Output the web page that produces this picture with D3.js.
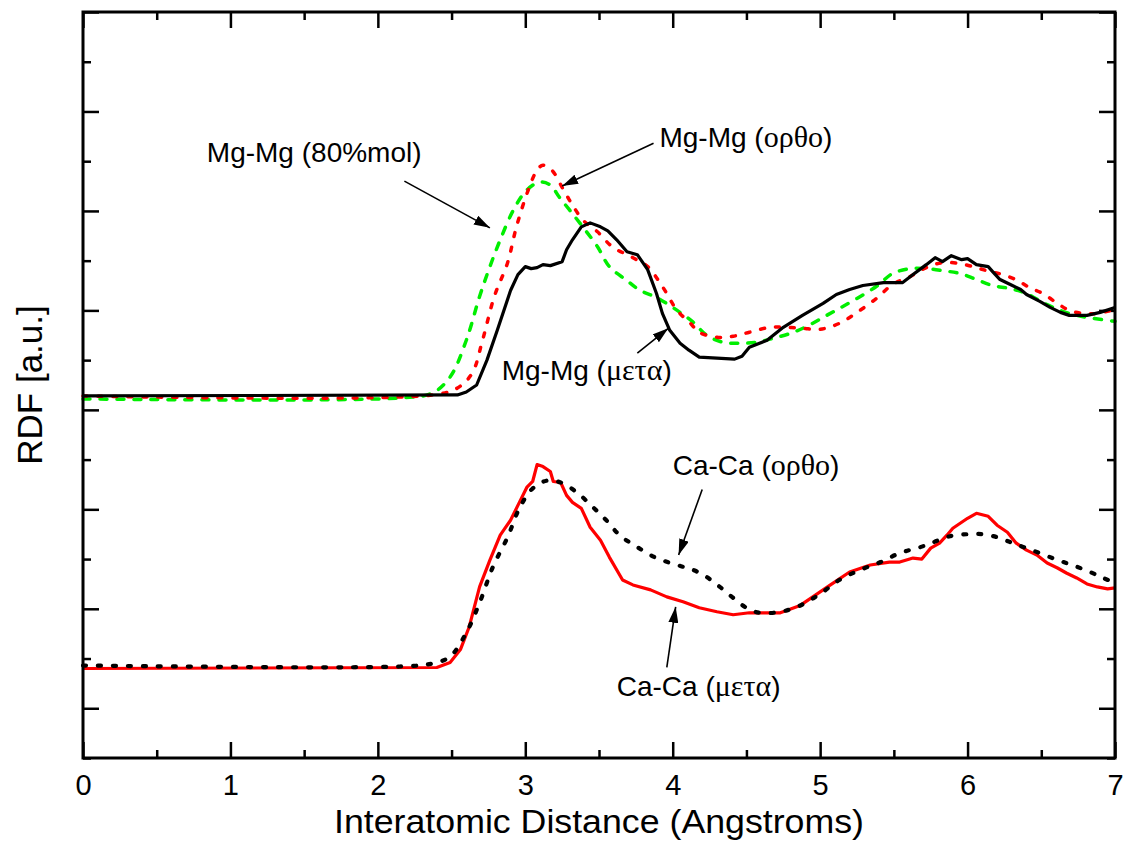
<!DOCTYPE html>
<html>
<head>
<meta charset="utf-8">
<script src="https://cdn.jsdelivr.net/npm/d3@7"></script>
<style>
  body { margin: 0; background: #fff; }
  svg { display: block; }
  text { font-family: "Liberation Sans", Arial, Helvetica, sans-serif; fill: #000; }
  .greek { font-family: "Liberation Serif", "Times New Roman", serif; }
</style>
</head>
<body>
<svg id="chart" width="1123" height="841"></svg>
<script>
// ---- axis ticks ----
const xMajorTicks = [0, 1, 2, 3, 4, 5, 6, 7];
const xMinorTicks = [0.5, 1.5, 2.5, 3.5, 4.5, 5.5, 6.5];
const yMajorTicks = [0, 1, 2, 3, 4, 5, 6, 7];
const yMinorTicks = [-0.5, 0.5, 1.5, 2.5, 3.5, 4.5, 5.5, 6.5];

// ---- radial distribution functions, [distance (Å), RDF (a.u., offset)] ----
const mgMgMeta = [
  [0, 3.14], [2.54, 3.15], [2.60, 3.18], [2.67, 3.25], [2.74, 3.50], [2.81, 3.80],
  [2.90, 4.20], [2.95, 4.36], [3.00, 4.44], [3.04, 4.42], [3.08, 4.43], [3.12, 4.46],
  [3.17, 4.45], [3.25, 4.49], [3.28, 4.61], [3.32, 4.71], [3.38, 4.84], [3.44, 4.88],
  [3.51, 4.84], [3.56, 4.80], [3.62, 4.71], [3.69, 4.59], [3.76, 4.56], [3.83, 4.41],
  [3.89, 4.17], [3.93, 3.97], [3.98, 3.80], [4.05, 3.67], [4.11, 3.60], [4.18, 3.53],
  [4.30, 3.52], [4.42, 3.51], [4.47, 3.54], [4.52, 3.63], [4.64, 3.70], [4.75, 3.83],
  [4.88, 3.95], [5.02, 4.07], [5.11, 4.16], [5.20, 4.21], [5.29, 4.25], [5.43, 4.28],
  [5.56, 4.28], [5.63, 4.36], [5.72, 4.46], [5.78, 4.53], [5.83, 4.49], [5.89, 4.55],
  [5.96, 4.51], [6.00, 4.52], [6.06, 4.46], [6.14, 4.44], [6.17, 4.39], [6.22, 4.31],
  [6.29, 4.26], [6.36, 4.21], [6.40, 4.16], [6.49, 4.09], [6.56, 4.03], [6.63, 3.98],
  [6.69, 3.95], [6.81, 3.95], [6.90, 3.98], [7.00, 4.03]
];

const mgMgOrtho = [
  [0, 3.14], [2.37, 3.15], [2.54, 3.22], [2.64, 3.37], [2.71, 3.70], [2.79, 4.14],
  [2.88, 4.48], [2.94, 4.84], [3.02, 5.21], [3.08, 5.41], [3.12, 5.46], [3.18, 5.41],
  [3.26, 5.21], [3.32, 5.06], [3.39, 4.91], [3.49, 4.79], [3.59, 4.64], [3.73, 4.53],
  [3.83, 4.44], [3.93, 4.24], [4.03, 4.00], [4.12, 3.87], [4.18, 3.78], [4.30, 3.73],
  [4.41, 3.74], [4.52, 3.78], [4.66, 3.83], [4.77, 3.83], [4.88, 3.82], [5.00, 3.81],
  [5.13, 3.87], [5.27, 4.00], [5.39, 4.13], [5.49, 4.26], [5.61, 4.34], [5.72, 4.43],
  [5.83, 4.48], [5.95, 4.47], [6.06, 4.43], [6.15, 4.39], [6.24, 4.36], [6.34, 4.30],
  [6.42, 4.23], [6.51, 4.17], [6.61, 4.07], [6.69, 4.00], [6.78, 3.97], [6.88, 3.97],
  [7.00, 4.01]
];

const mgMg80 = [
  [0, 3.11], [2.15, 3.12], [2.37, 3.17], [2.49, 3.33], [2.60, 3.70], [2.69, 4.14],
  [2.76, 4.44], [2.83, 4.71], [2.92, 5.01], [3.01, 5.21], [3.10, 5.29], [3.17, 5.26],
  [3.23, 5.14], [3.30, 5.01], [3.39, 4.84], [3.49, 4.64], [3.57, 4.44], [3.69, 4.30],
  [3.78, 4.20], [3.89, 4.13], [4.03, 4.00], [4.14, 3.88], [4.23, 3.75], [4.34, 3.68],
  [4.46, 3.67], [4.57, 3.68], [4.68, 3.72], [4.80, 3.77], [4.91, 3.84], [5.02, 3.93],
  [5.13, 4.02], [5.25, 4.12], [5.39, 4.25], [5.49, 4.37], [5.61, 4.42], [5.72, 4.42],
  [5.83, 4.40], [5.95, 4.37], [6.06, 4.31], [6.17, 4.25], [6.29, 4.22], [6.40, 4.17],
  [6.51, 4.08], [6.63, 4.00], [6.74, 3.95], [6.85, 3.92], [7.00, 3.89]
];

const caCaMeta = [
  [0, 0.40], [2.40, 0.41], [2.49, 0.46], [2.56, 0.59], [2.62, 0.82], [2.69, 1.22],
  [2.76, 1.49], [2.83, 1.74], [2.90, 1.89], [2.96, 2.07], [3.01, 2.22], [3.05, 2.28],
  [3.08, 2.45], [3.12, 2.43], [3.17, 2.38], [3.19, 2.28], [3.24, 2.27], [3.28, 2.14],
  [3.32, 2.07], [3.38, 2.01], [3.44, 1.82], [3.51, 1.69], [3.57, 1.52], [3.66, 1.29],
  [3.73, 1.24], [3.85, 1.19], [3.96, 1.12], [4.07, 1.07], [4.18, 1.01], [4.30, 0.97],
  [4.41, 0.94], [4.52, 0.96], [4.64, 0.96], [4.73, 0.96], [4.86, 1.03], [4.97, 1.14],
  [5.07, 1.24], [5.20, 1.37], [5.34, 1.44], [5.47, 1.47], [5.54, 1.47], [5.63, 1.51],
  [5.69, 1.50], [5.75, 1.61], [5.81, 1.66], [5.86, 1.74], [5.90, 1.81], [5.95, 1.86],
  [6.00, 1.91], [6.06, 1.96], [6.14, 1.93], [6.20, 1.84], [6.27, 1.77], [6.33, 1.66],
  [6.40, 1.59], [6.47, 1.54], [6.54, 1.46], [6.61, 1.41], [6.67, 1.36], [6.74, 1.31],
  [6.81, 1.25], [6.88, 1.22], [6.95, 1.20], [7.00, 1.21]
];

const caCaOrtho = [
  [0, 0.43], [2.15, 0.42], [2.37, 0.45], [2.49, 0.52], [2.60, 0.76], [2.69, 1.06],
  [2.78, 1.42], [2.88, 1.72], [2.96, 2.01], [3.05, 2.21], [3.15, 2.29], [3.24, 2.27],
  [3.35, 2.17], [3.46, 2.02], [3.55, 1.89], [3.64, 1.74], [3.76, 1.62], [3.89, 1.51],
  [4.03, 1.44], [4.14, 1.39], [4.23, 1.32], [4.32, 1.22], [4.41, 1.11], [4.50, 1.01],
  [4.59, 0.96], [4.73, 0.97], [4.86, 1.03], [5.00, 1.15], [5.13, 1.29], [5.27, 1.39],
  [5.41, 1.47], [5.54, 1.56], [5.68, 1.62], [5.77, 1.67], [5.88, 1.73], [6.00, 1.75],
  [6.10, 1.75], [6.20, 1.72], [6.29, 1.67], [6.38, 1.62], [6.49, 1.56], [6.61, 1.49],
  [6.71, 1.44], [6.83, 1.37], [6.92, 1.31], [7.00, 1.26]
];

// ---- callout labels: text anchor, arrow start and arrow tip in data units ----
const labelMain = ["Mg-Mg (", "Mg-Mg (", "Mg-Mg (", "Ca-Ca (", "Ca-Ca ("];
const labelGreek = ["80%mol", "ορθο", "μετα", "ορθο", "μετα"];
const labelText = [[0.84, 5.49], [3.91, 5.64], [2.84, 3.30], [4.00, 2.35], [3.62, 0.12]];
const arrowFrom = [[2.18, 5.30], [3.87, 5.68], [3.76, 3.57], [4.20, 2.20], [3.96, 0.41]];
const arrowTo   = [[2.76, 4.83], [3.25, 5.25], [3.97, 3.82], [4.04, 1.54], [4.02, 1.02]];

// ---- layout ----
const svg = d3.select("#chart");
const plotLeft = 83, plotRight = 1115, plotTop = 12, plotBottom = 758;

const x = d3.scaleLinear().domain([0, 7]).range([plotLeft, plotRight]);
const y = d3.scaleLinear().domain([-0.5, 7]).range([plotBottom, plotTop]);

// tick marks pointing into the frame on all four sides
function tickGroup(axisFn, scale, values, size, transform) {
  const g = svg.append("g")
    .attr("transform", transform)
    .call(axisFn(scale).tickValues(values).tickSize(-size).tickFormat(""));
  g.select(".domain").remove();
  g.selectAll(".tick line").attr("stroke", "#000").attr("stroke-width", 2.5);
  return g;
}
tickGroup(d3.axisBottom, x, xMajorTicks, 16, `translate(0,${plotBottom})`);
tickGroup(d3.axisBottom, x, xMinorTicks, 8, `translate(0,${plotBottom})`);
tickGroup(d3.axisTop, x, xMajorTicks, 16, `translate(0,${plotTop})`);
tickGroup(d3.axisTop, x, xMinorTicks, 8, `translate(0,${plotTop})`);
tickGroup(d3.axisLeft, y, yMajorTicks, 16, `translate(${plotLeft},0)`);
tickGroup(d3.axisLeft, y, yMinorTicks, 8, `translate(${plotLeft},0)`);
tickGroup(d3.axisRight, y, yMajorTicks, 16, `translate(${plotRight},0)`);
tickGroup(d3.axisRight, y, yMinorTicks, 8, `translate(${plotRight},0)`);

// x tick labels
const xLabels = svg.append("g")
  .attr("transform", `translate(0,${plotBottom})`)
  .call(d3.axisBottom(x).tickValues(xMajorTicks).tickSize(0).tickPadding(16).tickFormat(d3.format("d")));
xLabels.select(".domain").remove();
xLabels.selectAll("text")
  .attr("font-family", "'Liberation Sans', Arial, sans-serif")
  .attr("font-size", 29)
  .attr("fill", "#000");

// curves
const lineSmooth = d3.line().x(d => x(d[0])).y(d => y(d[1])).curve(d3.curveCatmullRom.alpha(0.5));
const lineRough = d3.line().x(d => x(d[0])).y(d => y(d[1]));

const plot = svg.append("g");
plot.append("path").datum(mgMg80)
  .attr("d", lineSmooth).attr("fill", "none")
  .attr("stroke", "#00ee00").attr("stroke-width", 3.5)
  .attr("stroke-dasharray", "7,10").attr("stroke-linecap", "round");
plot.append("path").datum(mgMgOrtho)
  .attr("d", lineSmooth).attr("fill", "none")
  .attr("stroke", "#ff0000").attr("stroke-width", 3.5)
  .attr("stroke-dasharray", "4,11").attr("stroke-linecap", "round");
plot.append("path").datum(mgMgMeta)
  .attr("d", lineRough).attr("fill", "none")
  .attr("stroke", "#000").attr("stroke-width", 3.2)
  .attr("stroke-linejoin", "round");
plot.append("path").datum(caCaMeta)
  .attr("d", lineRough).attr("fill", "none")
  .attr("stroke", "#ff0000").attr("stroke-width", 3.2)
  .attr("stroke-linejoin", "round");
plot.append("path").datum(caCaOrtho)
  .attr("d", lineSmooth).attr("fill", "none")
  .attr("stroke", "#000").attr("stroke-width", 4.2)
  .attr("stroke-dasharray", "3,12").attr("stroke-linecap", "round");

// frame
svg.append("rect")
  .attr("x", plotLeft).attr("y", plotTop)
  .attr("width", plotRight - plotLeft).attr("height", plotBottom - plotTop)
  .attr("fill", "none").attr("stroke", "#000").attr("stroke-width", 3);

// arrowheads
svg.append("defs").append("marker")
  .attr("id", "head")
  .attr("viewBox", "0 0 16 10")
  .attr("refX", 16).attr("refY", 5)
  .attr("markerWidth", 16).attr("markerHeight", 10)
  .attr("markerUnits", "userSpaceOnUse")
  .attr("orient", "auto")
  .append("path").attr("d", "M0,0 L16,5 L0,10 Z").attr("fill", "#000");

const callouts = svg.append("g");
labelMain.forEach((m, i) => {
  callouts.append("line")
    .attr("x1", x(arrowFrom[i][0])).attr("y1", y(arrowFrom[i][1]))
    .attr("x2", x(arrowTo[i][0])).attr("y2", y(arrowTo[i][1]))
    .attr("stroke", "#000").attr("stroke-width", 1.6)
    .attr("marker-end", "url(#head)");
  const t = callouts.append("text")
    .attr("x", x(labelText[i][0])).attr("y", y(labelText[i][1]))
    .attr("font-size", 28);
  t.append("tspan").text(m);
  const greekFont = /[α-ω]/.test(labelGreek[i]);
  t.append("tspan").attr("class", greekFont ? "greek" : null)
    .attr("font-size", greekFont ? 30 : 28)
    .text(labelGreek[i]);
  t.append("tspan").text(")");
});

// axis titles
svg.append("text")
  .attr("x", (plotLeft + plotRight) / 2).attr("y", 833)
  .attr("text-anchor", "middle").attr("font-size", 34)
  .attr("textLength", 530).attr("lengthAdjust", "spacingAndGlyphs")
  .text("Interatomic Distance (Angstroms)");
svg.append("text")
  .attr("transform", `translate(42,${(plotTop + plotBottom) / 2}) rotate(-90)`)
  .attr("text-anchor", "middle").attr("font-size", 35)
  .text("RDF [a.u.]");
</script>
</body>
</html>
